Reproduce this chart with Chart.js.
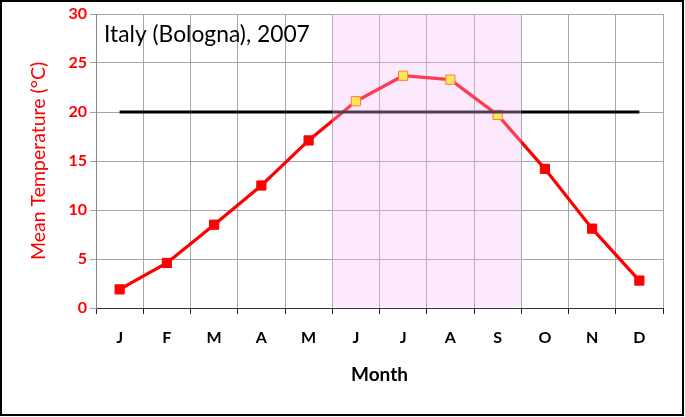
<!DOCTYPE html>
<html><head><meta charset="utf-8">
<script src="https://cdn.jsdelivr.net/npm/chart.js@4/dist/chart.umd.min.js"></script>
<style>html,body{margin:0;padding:0;background:#fff;}</style>
</head><body>
<canvas id="c" width="685" height="417"></canvas>
<script>
const months = ['J','F','M','A','M','J','J','A','S','O','N','D'];
const meanTemp = [1.9, 4.6, 8.5, 12.5, 17.1, 21.1, 23.7, 23.3, 19.7, 14.2, 8.1, 2.8];
const reference = [20, 20, 20, 20, 20, 20, 20, 20, 20, 20, 20, 20];
const highlightMonths = [5, 6, 7, 8]; // June–September
const yMin = 0, yMax = 30, yStep = 5;
const chartTitle = 'Italy (Bologna), 2007';
const xTitle = 'Month';
const yTitle = 'Mean Temperature (°C)';

const FONT = 'Lato';
const pointFill = months.map((m, i) => highlightMonths.includes(i) ? '#ffff00' : '#ff0000');
const pointEdge = months.map((m, i) => highlightMonths.includes(i) ? '#ff5a00' : '#ff0000');

const decor = {
  id: 'decor',
  afterDatasetsDraw(chart) {
    const {ctx, chartArea, scales: {x}} = chart;
    const x0 = x.getPixelForValue(Math.min(...highlightMonths) - 0.5);
    const x1 = x.getPixelForValue(Math.max(...highlightMonths) + 0.5);
    ctx.save();
    ctx.fillStyle = 'rgba(250,187,250,0.32)';
    ctx.fillRect(x0, chartArea.top, x1 - x0, chartArea.bottom - chartArea.top - 1);
    ctx.restore();
  },
  afterDraw(chart) {
    const {ctx, chartArea} = chart;
    ctx.save();
    ctx.font = '22.8px ' + FONT;
    ctx.fillStyle = '#000';
    ctx.textBaseline = 'alphabetic';
    ctx.textAlign = 'left';
    ctx.fillText(chartTitle, chartArea.left + 8, 42);
    ctx.strokeStyle = '#000';
    ctx.lineWidth = 2;
    ctx.strokeRect(1, 1, 682, 414);
    ctx.restore();
  }
};

new Chart(document.getElementById('c'), {
  type: 'line',
  data: {
    labels: months,
    datasets: [
      {
        data: reference,
        borderColor: '#000',
        borderWidth: 3,
        pointRadius: 0,
        tension: 0,
        order: 0
      },
      {
        data: meanTemp,
        borderColor: '#ff0000',
        borderWidth: 3.2,
        pointStyle: 'rect',
        pointRadius: 6.5,
        pointBorderWidth: 1,
        pointBackgroundColor: pointFill,
        pointBorderColor: pointEdge,
        tension: 0,
        order: 1
      }
    ]
  },
  options: {
    responsive: false,
    animation: false,
    devicePixelRatio: 1,
    layout: {padding: {top: 14, right: 22, left: 0, bottom: 0}},
    plugins: {legend: {display: false}, tooltip: {enabled: false}, title: {display: false}},
    scales: {
      x: {
        type: 'category',
        offset: true,
        grid: {offset: true, color: '#a6a6a6', tickLength: 6, tickColor: '#222', lineWidth: 1},
        border: {color: '#333', width: 1},
        ticks: {color: '#000', font: {family: FONT, size: 16, weight: 'bold'}, padding: 14, maxRotation: 0, autoSkip: false},
        title: {display: true, text: xTitle, color: '#000', font: {family: FONT, size: 19, weight: 'bold'}, padding: {top: 0, bottom: 31}},
        afterFit(s) { s.height = 109; }
      },
      y: {
        min: yMin, max: yMax,
        grid: {color: '#a6a6a6', tickLength: 6, lineWidth: 1},
        border: {color: '#888', width: 1},
        ticks: {stepSize: yStep, color: '#ff0000', font: {family: FONT, size: 16, weight: 'bold'}, padding: 3},
        title: {display: true, text: yTitle, color: '#ff0000', font: {family: FONT, size: 19.5}, padding: {top: 27, bottom: 0}},
        afterFit(s) { s.width = 96; }
      }
    }
  },
  plugins: [decor]
});
</script>
</body></html>
